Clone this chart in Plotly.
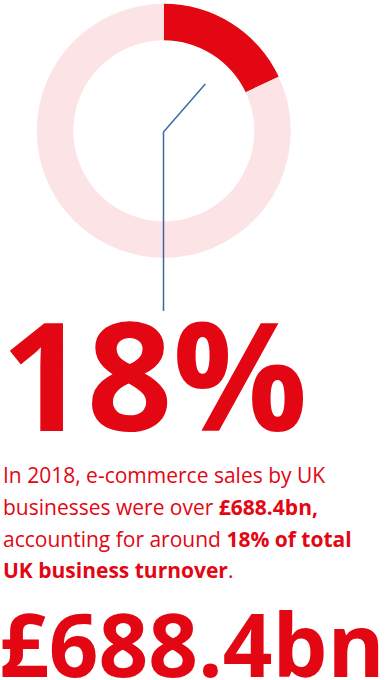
import plotly.graph_objects as go

W, H = 388, 680

# Data
share_labels = ["E-commerce sales", "Other turnover"]
share_values = [18, 82]
headline_pct = "18%"
headline_value = "£688.4bn"
body_lines = [
    "In 2018, e-commerce sales by UK",
    "businesses were over <b>£688.4bn,</b>",
    "accounting for around <b>18% of total</b>",
    "<b>UK business turnover</b>.",
]

RED = "#e30613"
PINK = "#fce4e6"
BLUE = "#3a6aa3"
FONT = "Open Sans"


def px(x):
    return x / W


def py(y):
    return 1 - y / H


# donut geometry (pixels)
cx, cy, r_out, r_in = 163.8, 130.8, 127.0, 90.5

fig = go.Figure()
fig.add_trace(go.Pie(
    labels=share_labels,
    values=share_values,
    sort=False,
    direction="clockwise",
    rotation=0,
    hole=r_in / r_out,
    marker=dict(colors=[RED, PINK], line=dict(width=0)),
    textinfo="none",
    hoverinfo="label+percent",
    showlegend=False,
    domain=dict(x=[px(cx - r_out), px(cx + r_out)],
                y=[py(cy + r_out), py(cy - r_out)]),
))

# leader line from the slice down to the headline figure
fig.add_shape(
    type="path",
    xref="paper", yref="paper",
    path=f"M {px(205.3)} {py(84)} L {px(163.5)} {py(132)} L {px(163.5)} {py(311)}",
    line=dict(color=BLUE, width=1.5),
)

annotations = []
# headline percentage
fs_big = 150
annotations.append(dict(
    text=f"<b>{headline_pct}</b>", x=px(-1), y=py(431 - 0.388 * fs_big),
    xref="paper", yref="paper", xanchor="left", yanchor="middle",
    showarrow=False, font=dict(family=FONT, size=fs_big, color=RED),
))
# body copy
fs_body = 21
baselines = [483.3, 515.0, 546.7, 578.3]
for line, base in zip(body_lines, baselines):
    annotations.append(dict(
        text=line, x=px(1), y=py(base - 0.388 * fs_body),
        xref="paper", yref="paper", xanchor="left", yanchor="middle",
        showarrow=False, font=dict(family=FONT, size=fs_body, color=RED),
    ))
# headline value
fs_val = 87
annotations.append(dict(
    text=f"<b>{headline_value}</b>", x=px(-3), y=py(677 - 0.388 * fs_val),
    xref="paper", yref="paper", xanchor="left", yanchor="middle",
    showarrow=False, font=dict(family=FONT, size=fs_val, color=RED),
))

fig.update_layout(
    width=W, height=H,
    margin=dict(l=0, r=0, t=0, b=0),
    paper_bgcolor="white", plot_bgcolor="white",
    annotations=annotations,
    font=dict(family=FONT),
)

fig.write_html("out.html", config={"displayModeBar": False})
